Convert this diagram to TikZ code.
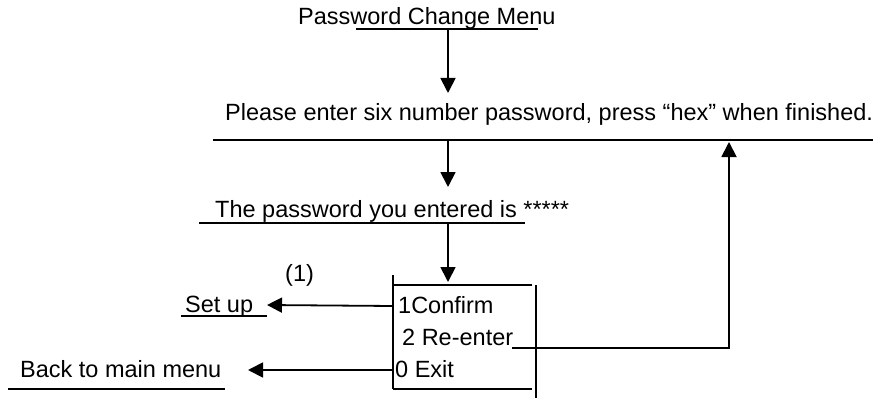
\documentclass[tikz,border=0pt]{standalone}
\usepackage{fontspec}
\setmainfont{Liberation Sans}
\usetikzlibrary{arrows.meta}
\begin{document}
\begin{tikzpicture}[x=1pt,y=-1pt,
  lbl/.style={anchor=base west, inner sep=0pt, font=\fontsize{23.5}{28}\selectfont},
  ln/.style={line width=1.8pt},
  arr/.style={line width=1.8pt,-{Triangle[length=15pt,width=15pt]}}]
\useasboundingbox (0,0) rectangle (886,401);
% texts
\node[lbl] (title) at (298,25) {Password Change Menu};
\node[lbl] (enter) at (225,121) {Please enter six number password, press “hex” when finished.};
\node[lbl] (shown) at (215,217) {The password you entered is *****};
\node[lbl] (one) at (285,281) {(1)};
\node[lbl] (setup) at (185,312) {Set up};
\node[lbl] (back) at (20,377) {Back to main menu};
\node[lbl] (confirm) at (398,313) {1Confirm};
\node[lbl] (reenter) at (402,345) {2 Re-enter};
\node[lbl] (exit) at (395,377) {0 Exit};
% coordinates
\coordinate (t1) at (356,29); \coordinate (t2) at (538,29);
\coordinate (e1) at (213,140); \coordinate (e2) at (873,140);
\coordinate (s1) at (199,223); \coordinate (s2) at (525,223);
\coordinate (u1) at (181,316); \coordinate (u2) at (267,316);
\coordinate (b1) at (8,389); \coordinate (b2) at (225,389);
\coordinate (a1) at (448,29); \coordinate (a1e) at (448,93);
\coordinate (a2) at (448,140); \coordinate (a2e) at (448,187);
\coordinate (a3) at (448,223); \coordinate (a3e) at (448,282);
\coordinate (bl1) at (393,275); \coordinate (bl2) at (393,389);
\coordinate (bt2) at (532,285); \coordinate (bb2) at (532,389);
\coordinate (bt1) at (393,285);
\coordinate (br1) at (536,285); \coordinate (br2) at (536,398);
\coordinate (c1) at (393,306); \coordinate (c1e) at (267,305);
\coordinate (x1) at (393,370); \coordinate (x1e) at (248,370);
\coordinate (r1) at (512,348); \coordinate (r2) at (729,348); \coordinate (r3) at (729,142);
% underlines
\draw[ln] (t1) -- (t2);
\draw[ln] (e1) -- (e2);
\draw[ln] (s1) -- (s2);
\draw[ln] (u1) -- (u2);
\draw[ln] (b1) -- (b2);
% box
\draw[ln] (bl1) -- (bl2);
\draw[ln] (bt1) -- (bt2);
\draw[ln] (bl2) -- (bb2);
\draw[ln] (br1) -- (br2);
% arrows
\draw[arr] (a1) -- (a1e);
\draw[arr] (a2) -- (a2e);
\draw[arr] (a3) -- (a3e);
\draw[arr] (c1) -- (c1e);
\draw[arr] (x1) -- (x1e);
\draw[arr] (r1) -- (r2) -- (r3);
\end{tikzpicture}
\end{document}
